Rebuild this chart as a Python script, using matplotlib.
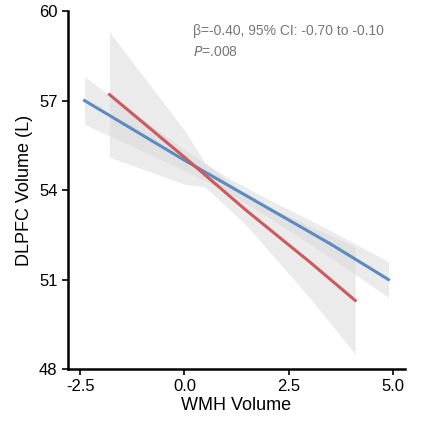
import numpy as np
import matplotlib
matplotlib.use("Agg")
import matplotlib.pyplot as plt

plt.rcParams["font.family"] = ["Liberation Sans", "DejaVu Sans"]

# blue fit
blue_x = [-2.4, 0.0, 1.0, 2.0, 3.5, 4.9]
blue_y = [57.0, 55.0, 54.2, 53.4, 52.2, 51.0]
blue_hw = [0.8, 0.35, 0.25, 0.3, 0.45, 0.6]
# red fit
red_x = [-1.8, 0.0, 0.5, 1.5, 3.0, 4.1]
red_y = [57.2, 55.1, 54.5, 53.3, 51.6, 50.3]
red_hw = [2.1, 0.9, 0.4, 0.5, 1.2, 1.8]

fig = plt.figure(figsize=(4.38, 4.42), dpi=100)
ax = fig.add_axes([0.155, 0.165, 0.77, 0.81])

for xs, ys, hw, c in [(blue_x, blue_y, blue_hw, "#5b8bc4"), (red_x, red_y, red_hw, "#cc5a5e")]:
    ys = np.array(ys); hw = np.array(hw)
    ax.fill_between(xs, ys - hw, ys + hw, color="#d9d9d9", alpha=0.5, lw=0)
    ax.plot(xs, ys, color=c, lw=2.2)

ax.set_xlim(-2.8, 5.3)
ax.set_ylim(48, 60)
ax.set_xticks([-2.5, 0, 2.5, 5.0])
ax.set_xticklabels(["-2.5", "0.0", "2.5", "5.0"])
ax.set_yticks([48, 51, 54, 57, 60])
ax.tick_params(labelsize=12, length=4, width=1.2)
for s in ["top", "right"]:
    ax.spines[s].set_visible(False)
for s in ["left", "bottom"]:
    ax.spines[s].set_linewidth(1.8)
ax.set_xlabel("WMH Volume", fontsize=13, labelpad=2)
ax.set_ylabel("DLPFC Volume (L)", fontsize=13)
ax.text(0.37, 0.965, "β=-0.40, 95% CI: -0.70 to -0.10", transform=ax.transAxes,
        fontsize=10, color="#777777", va="top")
ax.text(0.37, 0.905, "$P$=.008", transform=ax.transAxes, fontsize=10, color="#777777", va="top")

fig.savefig("out.png", dpi=100)
